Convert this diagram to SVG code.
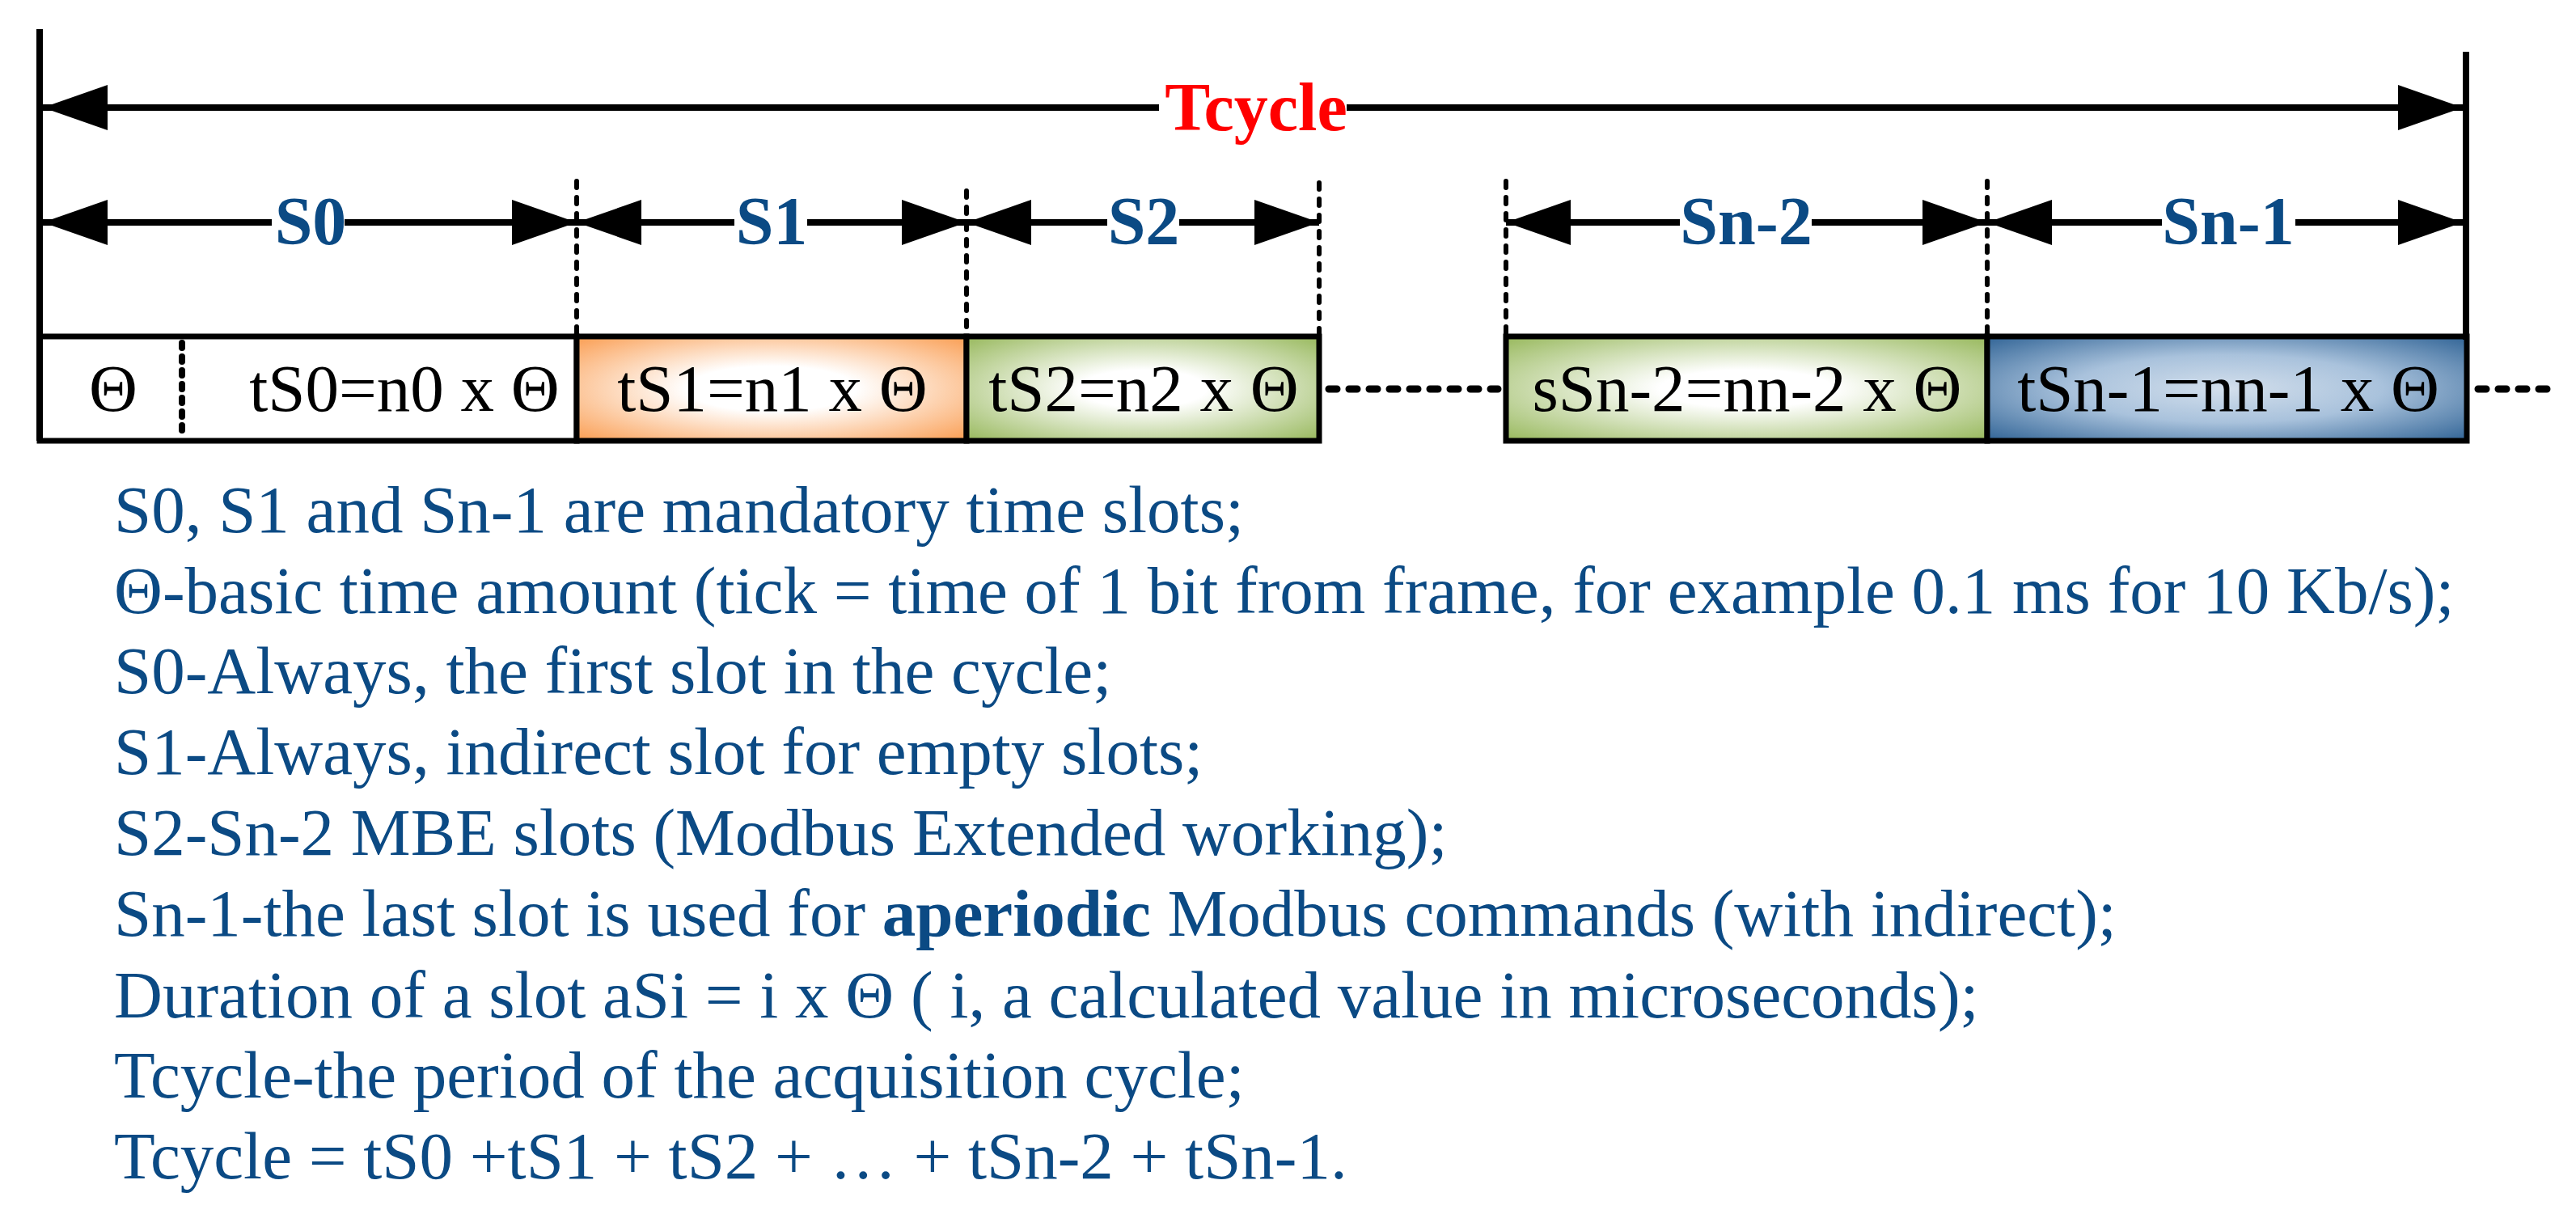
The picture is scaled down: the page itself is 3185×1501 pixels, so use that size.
<svg xmlns="http://www.w3.org/2000/svg" width="3185" height="1501" viewBox="0 0 3185 1501">
<defs>
<style>
.ln{stroke:#000;stroke-width:8;fill:none}
.dash{stroke:#000;stroke-width:6;fill:none;stroke-dasharray:8 12;stroke-linecap:round}
.dot{stroke:#000;stroke-width:9;fill:none;stroke-dasharray:10 15;stroke-linecap:round}
.box{stroke:#000;stroke-width:7}
.bt{font-family:"Liberation Serif","Times New Roman",serif;font-size:83px;fill:#000;text-anchor:middle}
.lab{font-family:"Liberation Serif","Times New Roman",serif;font-size:84px;font-weight:bold;fill:#0B4A84;text-anchor:middle}
.tc{font-family:"Liberation Serif","Times New Roman",serif;font-size:84px;font-weight:bold;fill:#FF0000;text-anchor:middle}
.note{font-family:"Liberation Serif","Times New Roman",serif;font-size:83px;fill:#0B4A84}
</style>
<radialGradient id="gOr" cx="0.5" cy="0.5" r="0.72">
<stop offset="0" stop-color="#FFFFFF"/><stop offset="0.3" stop-color="#FFFFFF"/><stop offset="1" stop-color="#FA9A4C"/>
</radialGradient>
<radialGradient id="gGr" cx="0.5" cy="0.5" r="0.72">
<stop offset="0" stop-color="#FFFFFF"/><stop offset="0.25" stop-color="#FFFFFF"/><stop offset="1" stop-color="#94B657"/>
</radialGradient>
<radialGradient id="gBl" cx="0.5" cy="0.5" r="0.72">
<stop offset="0" stop-color="#D3DFEC"/><stop offset="0.45" stop-color="#A9C2DC"/><stop offset="1" stop-color="#2C6093"/>
</radialGradient>
<marker id="ah" viewBox="0 0 80 56" refX="80" refY="28" markerWidth="80" markerHeight="56" markerUnits="userSpaceOnUse" orient="auto">
<path d="M0,0 L80,28 L0,56 Z" fill="#000"/>
</marker>
</defs>
<rect width="3185" height="1501" fill="#fff"/>

<g id="boxes">
<g id="slot-S0">
<rect class="box" x="49" y="416" width="664" height="129" fill="#fff"/>
<line x1="225" y1="424" x2="225" y2="538" stroke="#000" stroke-width="8" stroke-dasharray="6 11" stroke-linecap="round"/>
<text class="bt" x="140" y="508">Θ</text>
<text class="bt" x="500" y="508">tS0=n0 x Θ</text>
</g>
<g id="slot-S1">
<rect class="box" x="713" y="416" width="482" height="129" fill="url(#gOr)"/>
<text class="bt" x="955" y="508">tS1=n1 x Θ</text>
</g>
<g id="slot-S2">
<rect class="box" x="1195" y="416" width="436" height="129" fill="url(#gGr)"/>
<text class="bt" x="1414" y="508">tS2=n2 x Θ</text>
</g>
<g id="slot-Sn-2">
<rect class="box" x="1862" y="416" width="595" height="129" fill="url(#gGr)"/>
<text class="bt" x="2160" y="508">sSn-2=nn-2 x Θ</text>
</g>
<g id="slot-Sn-1">
<rect class="box" x="2457" y="416" width="593" height="129" fill="url(#gBl)"/>
<text class="bt" x="2755" y="508">tSn-1=nn-1 x Θ</text>
</g>
</g>

<g id="connectors">
<line class="ln" x1="49" y1="36" x2="49" y2="545"/>
<line class="ln" x1="3049" y1="64" x2="3049" y2="420"/>
<line class="dash" x1="713" y1="224" x2="713" y2="412"/>
<line class="dash" x1="1195" y1="236" x2="1195" y2="412"/>
<line class="dash" x1="1631" y1="226" x2="1631" y2="412"/>
<line class="dash" x1="1862" y1="224" x2="1862" y2="412"/>
<line class="dash" x1="2457" y1="224" x2="2457" y2="412"/>
<line class="dot" x1="1643" y1="481" x2="1852" y2="481"/>
<line class="dot" x1="3064" y1="481" x2="3160" y2="481"/>
<!-- Tcycle -->
<line class="ln" x1="1433" y1="133" x2="53" y2="133" marker-end="url(#ah)"/>
<line class="ln" x1="1665" y1="133" x2="3045" y2="133" marker-end="url(#ah)"/>
<!-- S0 -->
<line class="ln" x1="336" y1="275" x2="53" y2="275" marker-end="url(#ah)"/>
<line class="ln" x1="426" y1="275" x2="713" y2="275" marker-end="url(#ah)"/>
<!-- S1 -->
<line class="ln" x1="908" y1="275" x2="713" y2="275" marker-end="url(#ah)"/>
<line class="ln" x1="998" y1="275" x2="1195" y2="275" marker-end="url(#ah)"/>
<!-- S2 -->
<line class="ln" x1="1369" y1="275" x2="1195" y2="275" marker-end="url(#ah)"/>
<line class="ln" x1="1458" y1="275" x2="1631" y2="275" marker-end="url(#ah)"/>
<!-- Sn-2 -->
<line class="ln" x1="2077" y1="275" x2="1862" y2="275" marker-end="url(#ah)"/>
<line class="ln" x1="2240" y1="275" x2="2457" y2="275" marker-end="url(#ah)"/>
<!-- Sn-1 -->
<line class="ln" x1="2673" y1="275" x2="2457" y2="275" marker-end="url(#ah)"/>
<line class="ln" x1="2838" y1="275" x2="3045" y2="275" marker-end="url(#ah)"/>
</g>

<g id="labels">
<text class="tc" x="1553" y="161">Tcycle</text>
<text class="lab" x="384" y="302">S0</text>
<text class="lab" x="954" y="302">S1</text>
<text class="lab" x="1414" y="302">S2</text>
<text class="lab" x="2159" y="302">Sn-2</text>
<text class="lab" x="2755" y="302">Sn-1</text>
</g>

<g id="notes">
<text class="note" x="141" y="658">S0, S1 and Sn-1 are mandatory time slots;</text>
<text class="note" x="141" y="758">Θ-basic time amount (tick = time of 1 bit from frame, for example 0.1 ms for 10 Kb/s);</text>
<text class="note" x="141" y="857">S0-Always, the first slot in the cycle;</text>
<text class="note" x="141" y="957">S1-Always, indirect slot for empty slots;</text>
<text class="note" x="141" y="1057">S2-Sn-2 MBE slots (Modbus Extended working);</text>
<text class="note" x="141" y="1157">Sn-1-the last slot is used for <tspan font-weight="bold">aperiodic</tspan> Modbus commands (with indirect);</text>
<text class="note" x="141" y="1258">Duration of a slot aSi = i x Θ ( i, a calculated value in microseconds);</text>
<text class="note" x="141" y="1357">Tcycle-the period of the acquisition cycle;</text>
<text class="note" x="141" y="1457">Tcycle = tS0 +tS1 + tS2 + … + tSn-2 + tSn-1.</text>
</g>
</svg>
